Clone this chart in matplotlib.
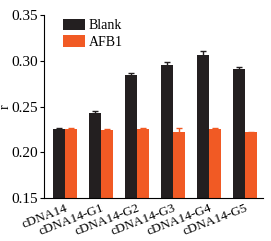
import numpy as np
import matplotlib
matplotlib.use("Agg")
import matplotlib.pyplot as plt
import matplotlib.transforms as mtransforms

plt.rcParams['font.family'] = ['Liberation Serif', 'DejaVu Serif']

groups = ['cDNA14', 'cDNA14-G1', 'cDNA14-G2', 'cDNA14-G3', 'cDNA14-G4', 'cDNA14-G5']
blank = [0.226, 0.243, 0.285, 0.296, 0.306, 0.291]
blank_err = [0.001, 0.002, 0.002, 0.003, 0.005, 0.002]
afb1 = [0.226, 0.224, 0.226, 0.222, 0.226, 0.222]
afb1_err = [0.001, 0.002, 0.0005, 0.005, 0.0005, 0.0005]

fig = plt.figure(figsize=(2.71, 2.41), dpi=100)
ax = fig.add_axes([0.162, 0.178, 0.808, 0.759])

x = np.arange(len(groups))
w = 0.33
ax.bar(x - w/2, blank, w, yerr=blank_err, color='#231f20', error_kw=dict(ecolor='#231f20', elinewidth=1, capsize=2), label='Blank')
ax.bar(x + w/2, afb1, w, yerr=afb1_err, color='#f15a24', error_kw=dict(ecolor='#f15a24', elinewidth=1, capsize=2), label='AFB1')

ax.set_ylim(0.15, 0.35)
ax.set_xlim(-0.583, 5.5)
ax.set_yticks([0.15, 0.20, 0.25, 0.30, 0.35])
ax.set_yticklabels(['0.15', '0.20', '0.25', '0.30', '0.35'], fontsize=11)
ax.set_xticks(x)
ax.set_xticklabels(groups, fontsize=9.5, rotation=21, ha='right', rotation_mode='anchor')
shift = mtransforms.ScaledTranslation(0.07, 0, fig.dpi_scale_trans)
for lab in ax.get_xticklabels():
    lab.set_transform(lab.get_transform() + shift)
ax.tick_params(axis='x', length=0, pad=3)
ax.tick_params(axis='y', length=3, width=0.8, pad=1)
ax.set_ylabel('r', fontsize=10)
ax.yaxis.set_label_coords(-0.148, 0.5)
for s in ['top', 'right']:
    ax.spines[s].set_visible(False)

ax.legend(loc='upper left', bbox_to_anchor=(0.06, 1.01), frameon=False, fontsize=10,
          handlelength=1.6, handleheight=0.9, handletextpad=0.3, labelspacing=0.2, borderaxespad=0)

fig.savefig('out.png', dpi=100)
